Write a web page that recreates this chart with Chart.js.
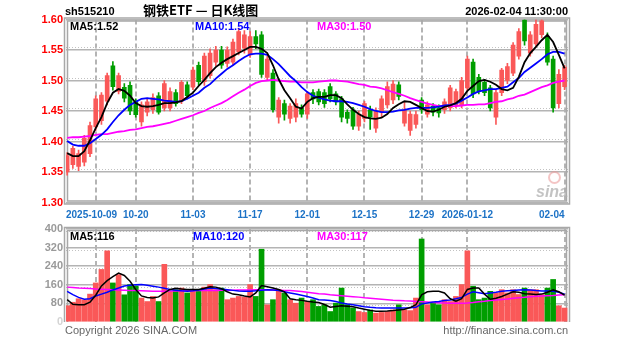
<!DOCTYPE html>
<html>
<head>
<meta charset="utf-8">
<script src="https://cdn.jsdelivr.net/npm/chart.js@4/dist/chart.umd.min.js"></script>
<style>
  html, body { margin: 0; padding: 0; background: #fff; }
  #wrap { position: relative; width: 627px; height: 342px; overflow: hidden; font-family: "Liberation Sans", Arial, sans-serif; }
  canvas { position: absolute; left: 0; }
  .t { position: absolute; white-space: nowrap; font-weight: bold; font-size: 11px; line-height: 12px; }
  .g { position: absolute; white-space: nowrap; font-size: 11px; line-height: 12px; color: #666; }
</style>
</head>
<body>
<div id="wrap">
  <canvas id="kline" width="627" height="225" style="top:0"></canvas>
  <canvas id="vol" width="627" height="127" style="top:215px"></canvas>

  <div class="t" style="left:65px;top:5px;color:#000">sh515210</div>
  <div class="t" style="left:143px;top:3px;color:#000;font-size:13px;line-height:14px;font-family:'Noto Sans CJK SC','Liberation Sans',sans-serif">钢铁ETF — 日K线图</div>
  <div class="t" style="right:59px;top:5px;color:#000">2026-02-04 11:30:00</div>

  <div class="t" id="pMa5"  style="left:70px;top:20px;color:#000"></div>
  <div class="t" id="pMa10" style="left:195px;top:20px;color:#0000ff"></div>
  <div class="t" id="pMa30" style="left:317px;top:20px;color:#ff00ff"></div>

  <div class="t" id="vMa5"  style="left:70px;top:230px;color:#000"></div>
  <div class="t" id="vMa10" style="left:193px;top:230px;color:#0000ff"></div>
  <div class="t" id="vMa30" style="left:317px;top:230px;color:#ff00ff"></div>

  <div style="position:absolute;left:548px;top:171px;width:9px;height:9px;border:2px solid rgba(235,150,150,0.55);border-radius:50%"></div>
  <div class="t" style="left:536px;top:184px;font-size:16px;line-height:16px;font-style:italic;color:rgba(175,175,175,0.75)">sina</div>

  <div class="g" style="left:65px;top:324px">Copyright 2026 SINA.COM</div>
  <div class="g" style="right:59px;top:324px">http://finance.sina.com.cn</div>
</div>

<script>
// ---- daily bars ----
const dates = [
  '2025-09-24','2025-09-25','2025-09-26','2025-09-29','2025-09-30','2025-10-09','2025-10-10','2025-10-13','2025-10-14','2025-10-15',
  '2025-10-16','2025-10-17','2025-10-20','2025-10-21','2025-10-22','2025-10-23','2025-10-24','2025-10-27','2025-10-28','2025-10-29',
  '2025-10-30','2025-10-31','2025-11-03','2025-11-04','2025-11-05','2025-11-06','2025-11-07','2025-11-10','2025-11-11','2025-11-12',
  '2025-11-13','2025-11-14','2025-11-17','2025-11-18','2025-11-19','2025-11-20','2025-11-21','2025-11-24','2025-11-25','2025-11-26',
  '2025-11-27','2025-11-28','2025-12-01','2025-12-02','2025-12-03','2025-12-04','2025-12-05','2025-12-08','2025-12-09','2025-12-10',
  '2025-12-11','2025-12-12','2025-12-15','2025-12-16','2025-12-17','2025-12-18','2025-12-19','2025-12-22','2025-12-23','2025-12-24',
  '2025-12-25','2025-12-26','2025-12-29','2025-12-30','2025-12-31','2026-01-05','2026-01-06','2026-01-07','2026-01-08','2026-01-09',
  '2026-01-12','2026-01-13','2026-01-14','2026-01-15','2026-01-16','2026-01-19','2026-01-20','2026-01-21','2026-01-22','2026-01-23',
  '2026-01-26','2026-01-27','2026-01-28','2026-01-29','2026-01-30','2026-02-02','2026-02-03','2026-02-04'
];

const openP = [
  1.350,1.362,1.359,1.366,1.380,1.424,1.434,1.466,1.524,1.482,
  1.489,1.492,1.465,1.432,1.448,1.452,1.475,1.455,1.455,1.480,
  1.466,1.493,1.489,1.525,1.498,1.508,1.530,1.550,1.528,1.530,
  1.547,1.553,1.542,1.572,1.575,1.505,1.512,1.440,1.462,1.438,
  1.440,1.455,1.445,1.480,1.482,1.480,1.490,1.478,1.470,1.448,
  1.452,1.425,1.438,1.452,1.422,1.448,1.460,1.468,1.493,1.430,
  1.418,1.428,1.468,1.445,1.458,1.455,1.452,1.455,1.460,1.460,
  1.488,1.530,1.505,1.497,1.488,1.440,1.480,1.500,1.512,1.540,
  1.599,1.545,1.560,1.575,1.572,1.535,1.462,1.490
];
const highP = [
  1.382,1.392,1.386,1.410,1.432,1.475,1.480,1.512,1.531,1.512,
  1.495,1.498,1.470,1.465,1.470,1.478,1.480,1.500,1.488,1.485,
  1.500,1.498,1.522,1.530,1.545,1.552,1.556,1.556,1.555,1.568,
  1.586,1.582,1.580,1.582,1.580,1.540,1.518,1.472,1.468,1.462,
  1.470,1.460,1.482,1.485,1.486,1.485,1.495,1.482,1.474,1.452,
  1.456,1.450,1.466,1.458,1.455,1.475,1.498,1.500,1.498,1.465,
  1.450,1.450,1.472,1.465,1.462,1.460,1.470,1.492,1.486,1.505,
  1.540,1.535,1.510,1.502,1.492,1.484,1.520,1.528,1.562,1.585,
  1.600,1.580,1.600,1.600,1.578,1.540,1.518,1.525
];
const lowP = [
  1.345,1.356,1.352,1.360,1.375,1.418,1.428,1.460,1.484,1.478,
  1.465,1.444,1.440,1.425,1.442,1.446,1.445,1.450,1.450,1.458,
  1.462,1.470,1.485,1.492,1.492,1.504,1.524,1.520,1.522,1.525,
  1.542,1.545,1.538,1.552,1.505,1.500,1.448,1.430,1.435,1.430,
  1.432,1.440,1.438,1.462,1.460,1.456,1.465,1.460,1.432,1.430,
  1.420,1.418,1.432,1.420,1.415,1.440,1.455,1.462,1.468,1.425,
  1.410,1.422,1.446,1.440,1.442,1.440,1.446,1.450,1.455,1.455,
  1.482,1.472,1.478,1.475,1.450,1.428,1.475,1.495,1.508,1.535,
  1.558,1.540,1.555,1.570,1.525,1.448,1.455,1.485
];
const closeP = [
  1.377,1.389,1.380,1.405,1.426,1.470,1.476,1.508,1.490,1.508,
  1.471,1.450,1.444,1.460,1.465,1.472,1.448,1.495,1.482,1.462,
  1.497,1.475,1.517,1.498,1.540,1.545,1.550,1.525,1.550,1.563,
  1.580,1.575,1.572,1.560,1.510,1.535,1.452,1.468,1.445,1.458,
  1.462,1.445,1.478,1.470,1.465,1.462,1.470,1.465,1.440,1.438,
  1.425,1.445,1.462,1.440,1.450,1.470,1.490,1.494,1.474,1.452,
  1.445,1.444,1.452,1.460,1.448,1.447,1.465,1.488,1.482,1.500,
  1.535,1.478,1.482,1.480,1.455,1.480,1.517,1.523,1.558,1.580,
  1.565,1.575,1.592,1.598,1.530,1.455,1.510,1.522
];

const ma5 = [
  1.381,1.376,1.376,1.384,1.402,1.422,1.440,1.463,1.480,1.486,
  1.483,1.475,1.463,1.458,1.457,1.458,1.460,1.463,1.463,1.464,
  1.466,1.473,1.480,1.491,1.501,1.512,1.522,1.529,1.535,1.540,
  1.545,1.550,1.555,1.555,1.552,1.545,1.525,1.502,1.484,1.471,
  1.457,1.454,1.465,1.471,1.473,1.473,1.476,1.476,1.471,1.461,
  1.452,1.445,1.440,1.438,1.437,1.439,1.445,1.455,1.461,1.466,
  1.465,1.460,1.455,1.450,1.449,1.452,1.457,1.459,1.463,1.470,
  1.483,1.491,1.499,1.501,1.498,1.493,1.486,1.484,1.488,1.506,
  1.530,1.545,1.555,1.566,1.575,1.563,1.542,1.520
];
const ma10 = [
  1.401,1.395,1.393,1.393,1.397,1.404,1.411,1.420,1.432,1.443,
  1.452,1.460,1.465,1.470,1.471,1.470,1.469,1.467,1.466,1.465,
  1.466,1.470,1.475,1.480,1.488,1.494,1.503,1.511,1.519,1.525,
  1.532,1.538,1.543,1.544,1.544,1.542,1.535,1.527,1.517,1.507,
  1.499,1.489,1.481,1.475,1.472,1.469,1.467,1.466,1.466,1.465,
  1.463,1.460,1.457,1.453,1.450,1.448,1.448,1.449,1.451,1.452,
  1.454,1.455,1.455,1.455,1.456,1.457,1.459,1.460,1.462,1.467,
  1.472,1.478,1.482,1.484,1.486,1.486,1.488,1.490,1.497,1.504,
  1.514,1.521,1.528,1.535,1.543,1.547,1.547,1.544
];
const ma30 = [
  1.406,1.407,1.407,1.408,1.409,1.411,1.412,1.412,1.414,1.416,
  1.417,1.419,1.420,1.422,1.424,1.425,1.427,1.429,1.431,1.434,
  1.437,1.440,1.443,1.447,1.450,1.455,1.459,1.463,1.468,1.474,
  1.480,1.485,1.491,1.496,1.499,1.500,1.501,1.500,1.499,1.498,
  1.498,1.497,1.497,1.497,1.498,1.499,1.500,1.500,1.499,1.498,
  1.496,1.494,1.493,1.490,1.489,1.487,1.484,1.481,1.478,1.475,
  1.471,1.468,1.465,1.462,1.460,1.458,1.458,1.458,1.458,1.459,
  1.460,1.460,1.461,1.461,1.463,1.465,1.466,1.469,1.471,1.475,
  1.477,1.481,1.485,1.489,1.492,1.496,1.498,1.500
];

// ---- volume (万手) ----
const volume = [
  70,85,100,95,120,168,226,306,168,204,
  117,161,155,103,88,110,88,248,132,139,
  146,125,132,132,150,161,139,146,96,103,
  110,107,161,110,313,74,96,139,125,96,
  81,103,88,96,67,74,45,81,146,74,
  60,45,41,52,38,41,45,52,74,52,
  49,103,357,74,81,74,96,88,110,161,
  306,154,96,103,132,125,139,125,139,118,
  146,139,139,118,146,183,70,60
];
const volMa5 = [
  96,76,74,74,85,115,155,178,195,210,
  200,175,140,112,105,103,108,125,140,145,
  142,140,140,140,145,152,150,143,130,120,
  117,112,108,125,157,152,146,140,130,100,
  96,93,89,86,84,75,64,67,70,68,
  66,60,55,50,46,46,47,49,52,55,
  62,74,117,130,132,132,125,100,90,100,
  140,146,146,120,98,102,110,120,130,128,
  122,120,118,120,128,138,130,116
];
const volMa10 = [
  132,118,106,98,100,112,120,128,138,146,
  155,158,160,161,158,154,150,145,140,137,
  134,132,134,138,142,146,144,142,139,136,
  133,132,132,134,137,139,138,135,130,125,
  120,115,110,103,96,95,92,88,82,77,
  74,70,66,63,61,60,60,60,60,60,
  61,63,78,82,86,88,92,95,100,106,
  120,130,126,122,125,128,132,134,136,138,
  139,138,135,133,133,132,128,120
];
const volMa30 = [
  150,148,146,145,144,142,141,140,139,138,
  137,136,135,134,133,132,132,132,133,133,
  134,134,134,135,135,136,136,137,137,137,
  138,138,138,139,139,139,138,137,136,135,
  133,131,128,125,122,120,117,115,113,111,
  109,107,104,102,100,98,96,94,93,91,
  90,88,87,86,84,83,82,81,81,81,
  82,84,87,89,92,95,97,99,102,104,
  106,109,111,112,113,114,116,117
];

// ---- axis ticks ----
const priceTicks = [1.30, 1.35, 1.40, 1.45, 1.50, 1.55, 1.60];
const volTicks = [0, 80, 160, 240, 320, 400];
const tickDates = ['2025-10-09','2025-10-20','2025-11-03','2025-11-17','2025-12-01','2025-12-15','2025-12-29','2026-01-12','2026-02-04'];
const tickText  = ['2025-10-09','10-20','11-03','11-17','12-01','12-15','12-29','2026-01-12','02-04'];

// ---- styling ----
const UP = 'rgb(250,88,88)';
const DOWN = 'rgb(0,158,0)';
const GRID = '#b4b4b4';
const FONT = '"Liberation Sans", Arial, sans-serif';
const tickIdx = tickDates.map(d => dates.indexOf(d));
const idx = dates.map((d, i) => i);
const isUp = i => closeP[i] >= openP[i];
const barColor = c => isUp(c.dataIndex) ? UP : DOWN;
const last = a => a[a.length - 1];

document.getElementById('pMa5').textContent  = 'MA5:'  + last(ma5).toFixed(2);
document.getElementById('pMa10').textContent = 'MA10:' + last(ma10).toFixed(2);
document.getElementById('pMa30').textContent = 'MA30:' + last(ma30).toFixed(2);
document.getElementById('vMa5').textContent  = 'MA5:'  + last(volMa5);
document.getElementById('vMa10').textContent = 'MA10:' + last(volMa10);
document.getElementById('vMa30').textContent = 'MA30:' + last(volMa30);

// gray double frame plus faint dotted companions of the horizontal grid
const framePlugin = {
  id: 'frame',
  beforeDatasetsDraw(chart, args, opts) {
    const { ctx, chartArea: a, scales: { y } } = chart;
    ctx.save();
    ctx.strokeStyle = '#c2c2c2';
    ctx.lineWidth = 1;
    ctx.setLineDash([1, 2]);
    y.ticks.forEach(t => {
      const py = Math.round(y.getPixelForValue(t.value) + opts.dotShift) + 0.5;
      if (py <= a.top + 2 || py >= a.bottom - 2) return;
      ctx.beginPath(); ctx.moveTo(a.left, py); ctx.lineTo(a.right, py); ctx.stroke();
    });
    ctx.setLineDash([]);
    ctx.strokeStyle = '#a8a8a8';
    ctx.lineWidth = 1.5;
    [-1.5, 1.5].forEach(d => {
      const l = a.left + d, r = a.right - d, tp = a.top + d, b = a.bottom - d;
      ctx.beginPath();
      if (opts.closed) {
        ctx.rect(l, tp, r - l, b - tp);
      } else {
        ctx.moveTo(l, a.bottom); ctx.lineTo(l, tp); ctx.lineTo(r, tp); ctx.lineTo(r, a.bottom);
      }
      ctx.stroke();
    });
    ctx.restore();
  }
};

// date labels under the price panel, positioned by the x scale
const dateLabelPlugin = {
  id: 'dateLabels',
  afterDraw(chart) {
    const { ctx, chartArea: a, scales: { x } } = chart;
    ctx.save();
    ctx.font = 'bold 10px ' + FONT;
    ctx.fillStyle = '#1c72c6';
    ctx.textBaseline = 'middle';
    tickIdx.forEach((v, k) => {
      let px = x.getPixelForValue(v);
      let align = 'center';
      if (k === 0) { align = 'left'; px = a.left; }
      else if (k === tickIdx.length - 1) { align = 'right'; }
      ctx.textAlign = align;
      ctx.fillText(tickText[k], px, 215);
    });
    ctx.restore();
  }
};

function xScale() {
  return {
    type: 'linear', min: -0.2, max: 87.6, offset: false,
    afterBuildTicks: s => { s.ticks = tickIdx.map(v => ({ value: v })); },
    afterFit: s => { s.height = 0; },
    ticks: { display: false },
    grid: { color: GRID, lineWidth: 2, drawTicks: false, offset: false },
    border: { display: false, dash: [5, 3] }
  };
}

function lineSet(data, color, width) {
  return {
    type: 'line', data: data.map((v, i) => ({ x: i, y: v })),
    borderColor: color, borderWidth: width, pointRadius: 0, tension: 0, order: 0, fill: false
  };
}

new Chart(document.getElementById('kline'), {
  type: 'bar',
  data: {
    datasets: [
      { data: idx.map(i => ({ x: i, y: [lowP[i], highP[i]] })), backgroundColor: barColor,
        barThickness: 1, grouped: false, borderWidth: 0, order: 2 },
      { data: idx.map(i => ({ x: i, y: [openP[i], closeP[i]] })), backgroundColor: barColor,
        barThickness: 4, grouped: false, borderWidth: 0, minBarLength: 1, order: 1 },
      lineSet(ma5, '#000000', 1.8),
      lineSet(ma10, '#0000ff', 1.8),
      lineSet(ma30, '#ff00ff', 1.8)
    ]
  },
  options: {
    responsive: false, animation: false, events: [],
    layout: { padding: { left: 0, right: 59, top: 19.5, bottom: 22.5 } },
    plugins: { legend: { display: false }, tooltip: { enabled: false }, frame: { dotShift: -3, closed: true } },
    scales: {
      x: xScale(),
      y: {
        type: 'linear', position: 'left', min: 1.30, max: 1.60, beginAtZero: false,
        afterBuildTicks: s => { s.ticks = priceTicks.map(v => ({ value: v })); },
        afterFit: s => { s.width = 66; },
        ticks: { color: '#ff0000', padding: 3, font: { family: FONT, size: 11, weight: 'bold' },
                 callback: v => v.toFixed(2) },
        grid: { color: GRID, lineWidth: 1.5, drawTicks: false },
        border: { display: false }
      }
    }
  },
  plugins: [framePlugin, dateLabelPlugin]
});

new Chart(document.getElementById('vol'), {
  type: 'bar',
  data: {
    datasets: [
      { data: idx.map(i => ({ x: i, y: volume[i] })), backgroundColor: barColor,
        barThickness: 5, grouped: false, borderWidth: 0, order: 1 },
      lineSet(volMa5, '#000000', 1.5),
      lineSet(volMa10, '#0000ff', 1.5),
      lineSet(volMa30, '#ff00ff', 1.5)
    ]
  },
  options: {
    responsive: false, animation: false, events: [],
    layout: { padding: { left: 0, right: 59, top: 14, bottom: 20 } },
    plugins: { legend: { display: false }, tooltip: { enabled: false }, frame: { dotShift: 2, closed: false } },
    scales: {
      x: xScale(),
      y: {
        type: 'linear', position: 'left', min: 0, max: 400,
        afterBuildTicks: s => { s.ticks = volTicks.map(v => ({ value: v })); },
        afterFit: s => { s.width = 66; },
        ticks: { color: c => c.tick.value === 0 ? '#d4d4d4' : '#9a9a9a', padding: 3,
                 font: { family: FONT, size: 11, weight: 'bold' } },
        grid: { color: c => c.tick.value === 0 ? 'rgba(0,0,0,0)' : GRID, lineWidth: 1.5, drawTicks: false },
        border: { display: false }
      }
    }
  },
  plugins: [framePlugin]
});
</script>
</body>
</html>
